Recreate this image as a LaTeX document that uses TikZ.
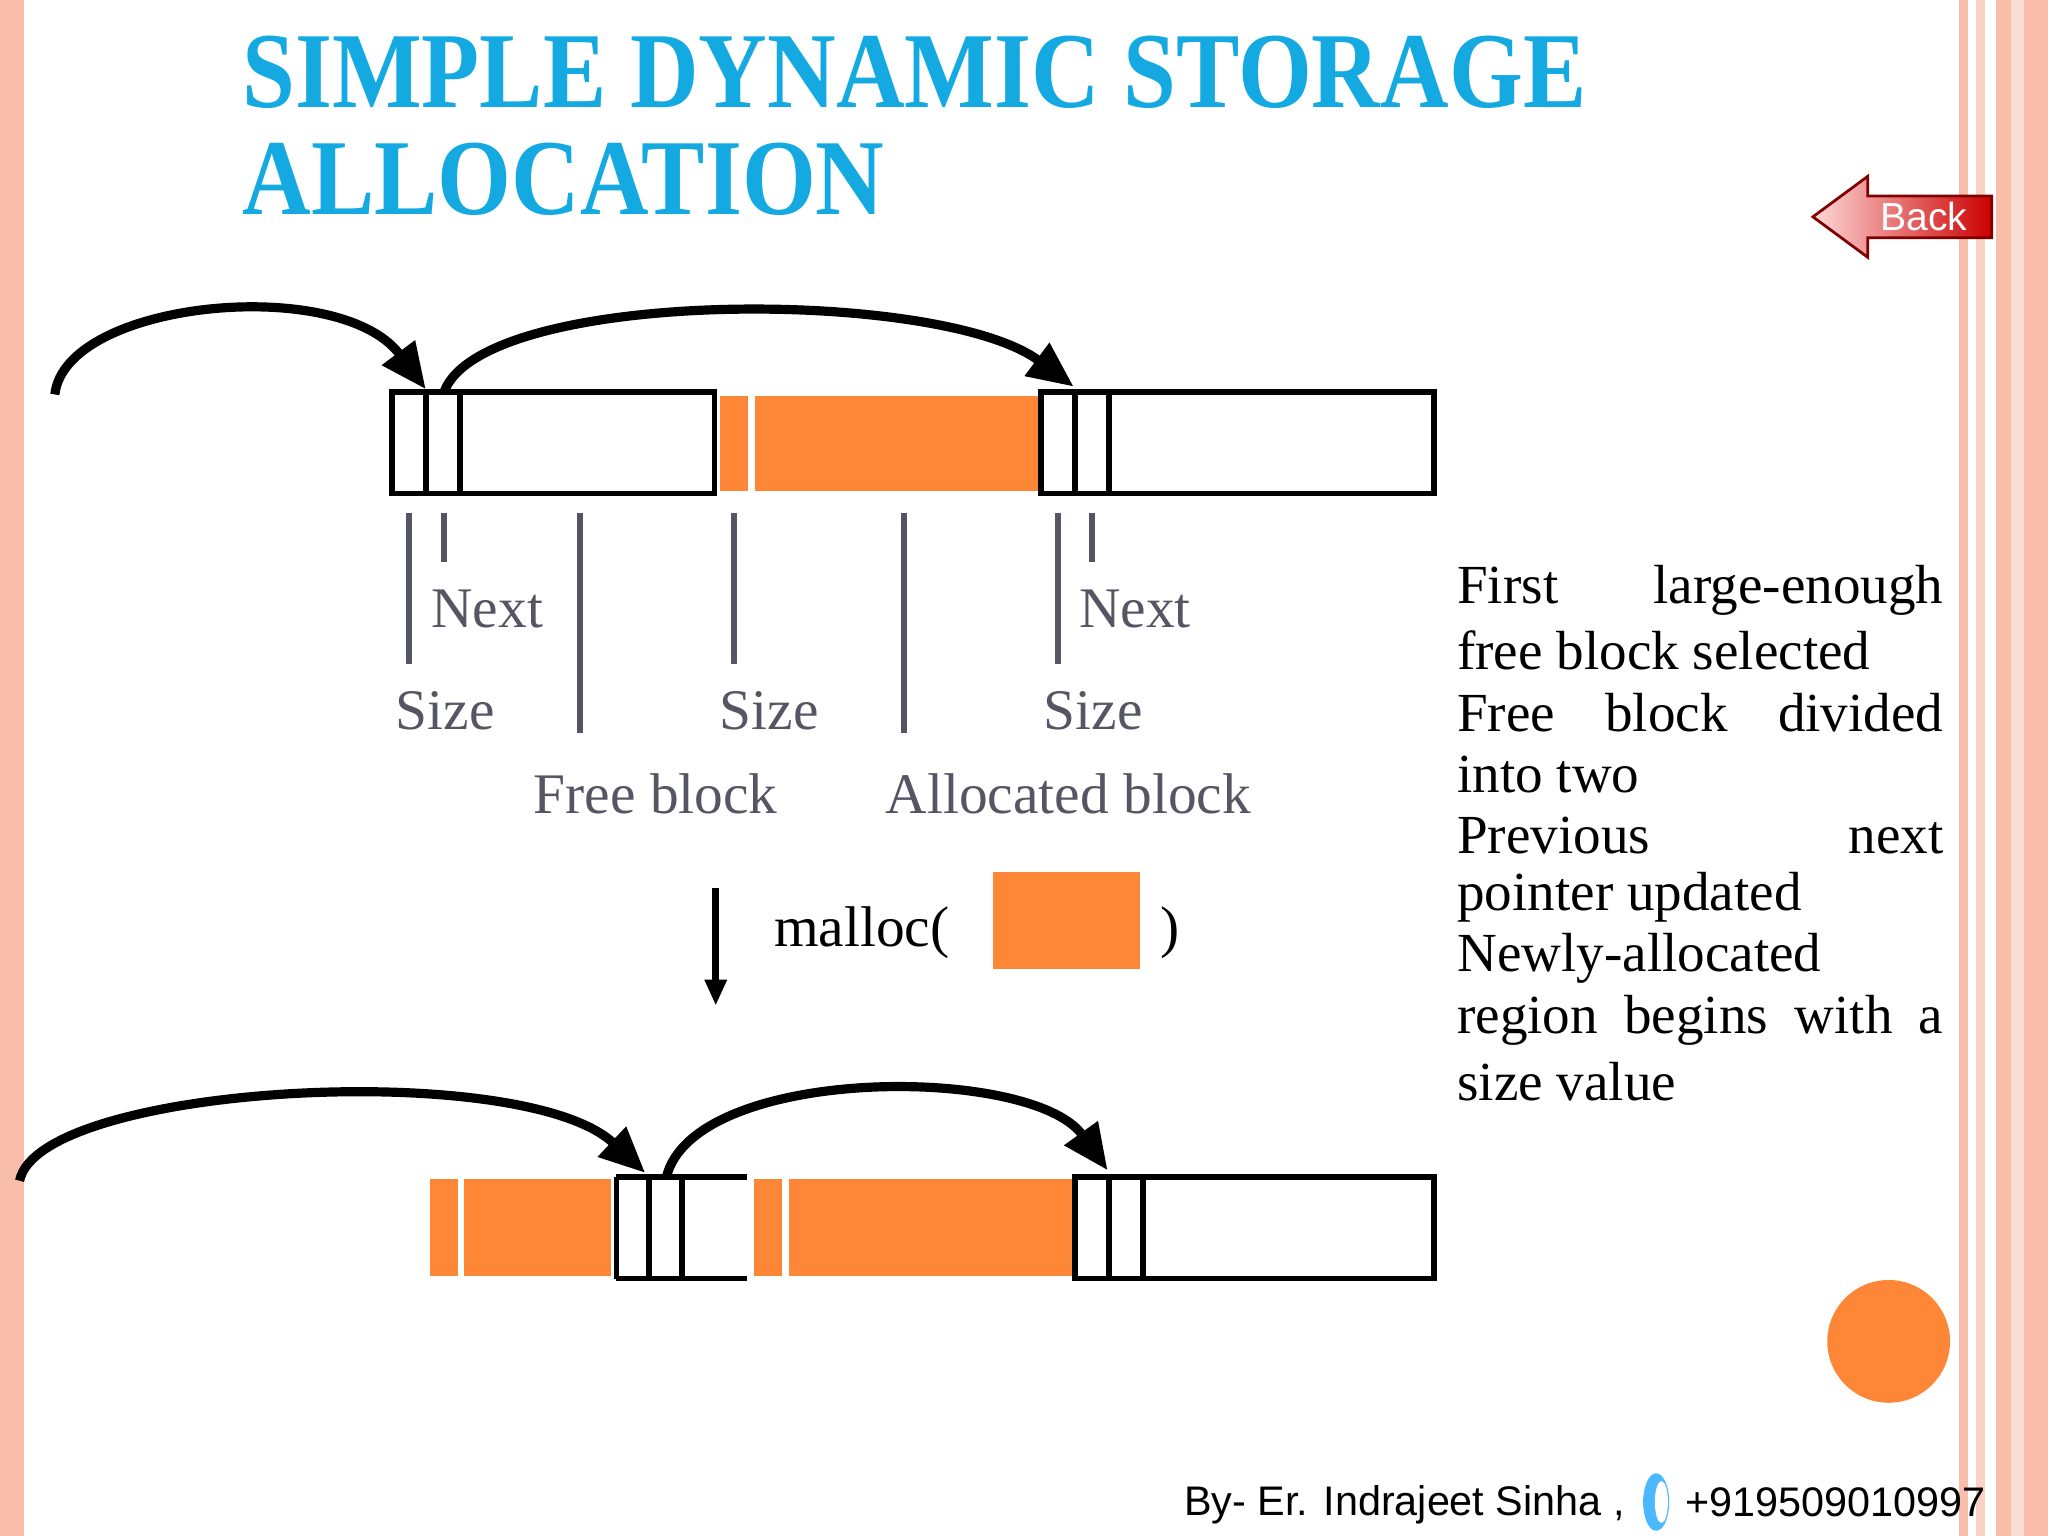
\documentclass[tikz,border=0pt]{standalone}
\usepackage{fontspec}
\setmainfont{Liberation Serif}
\newfontfamily\sansf{Liberation Sans}
\usetikzlibrary{arrows.meta}
\definecolor{ttl}{RGB}{20,170,225}
\definecolor{org}{RGB}{253,135,55}
\definecolor{gry}{RGB}{85,85,100}
\definecolor{pnk}{RGB}{248,190,170}
\begin{document}
\begin{tikzpicture}[x=0.01cm,y=-0.01cm,
  blk/.style={draw=black,line width=1.2pt,fill=white},
  orb/.style={fill=org,draw=none},
  tick/.style={draw=gry,line width=1.2pt},
  lbl/.style={text=gry,font=\fontsize{12.5}{14}\selectfont,inner sep=0pt},
  arc/.style={line width=2pt,-{Triangle[length=0.35cm,width=0.3cm]}},
  rt/.style={anchor=west,inner sep=0pt,font=\fontsize{12}{14}\selectfont}]
\useasboundingbox (0,0) rectangle (1568,1176);
% borders
\fill[pnk] (0,0) rectangle (18,1176);
\fill[pnk] (1500,0) rectangle (1507,1176);
\fill[pnk!70] (1513,0) rectangle (1520,1176);
\fill[pnk] (1528,0) rectangle (1568,1176);
\fill[pnk!50] (1540,0) rectangle (1550,1176);
% title
\node[anchor=west,text=ttl,font=\bfseries\fontsize{23.5}{26}\selectfont,inner sep=0pt,xscale=0.88] (t1) at (185,55) {SIMPLE DYNAMIC STORAGE};
\node[anchor=west,text=ttl,font=\bfseries\fontsize{23.5}{26}\selectfont,inner sep=0pt,xscale=0.88] (t2) at (185,137) {ALLOCATION};
% back button
\shade[left color=red!15!white,right color=red!80!black,draw=red!50!black,line width=0.6pt]
  (1388,166) -- (1430,135) -- (1430,150) -- (1525,150) -- (1525,182) -- (1430,182) -- (1430,197) -- cycle;
\node[text=white,font=\sansf\fontsize{8.5}{10}\selectfont] (bkt) at (1473,166) {Back};
% top row
\draw[blk] (300,300) rectangle (547,378);
\draw[line width=1.2pt] (326,300) -- (326,378) (352,300) -- (352,378);
\fill[orb] (551,303) rectangle (573,376);
\fill[orb] (578,303) rectangle (795,376);
\draw[blk] (797,300) rectangle (1098,378);
\draw[line width=1.2pt] (823,300) -- (823,378) (849,300) -- (849,378);
\coordinate (a0) at (42,302); \coordinate (a1) at (326,298);
\coordinate (b0) at (340,300); \coordinate (b1) at (822,296);
\draw[arc] (a0) .. controls (50,230) and (260,210) .. (a1);
\draw[arc] (b0) .. controls (370,220) and (720,220) .. (b1);
\draw[tick] (313,393) -- (313,508);
\draw[tick] (340,393) -- (340,430);
\draw[tick] (444,393) -- (444,561);
\draw[tick] (562,393) -- (562,508);
\draw[tick] (692,393) -- (692,561);
\draw[tick] (810,393) -- (810,508);
\draw[tick] (836,393) -- (836,430);
\node[lbl] (n1) at (373,466) {Next};
\node[lbl] (s1) at (341,544) {Size};
\node[lbl] (s2) at (589,544) {Size};
\node[lbl] (n2) at (869,466) {Next};
\node[lbl] (s3) at (837,544) {Size};
\node[lbl] (fb) at (502,608) {Free block};
\node[lbl] (ab) at (818,608) {Allocated block};
% malloc
\coordinate (m0) at (548,680); \coordinate (m1) at (548,770);
\draw[line width=1.6pt,-{Triangle[length=0.2cm,width=0.16cm]}] (m0) -- (m1);
\node[anchor=west,inner sep=0pt,font=\fontsize{12.5}{14}\selectfont] (ml) at (592,714) {malloc(};
\fill[orb] (760,668) rectangle (873,742);
\node[inner sep=0pt,font=\fontsize{12.5}{14}\selectfont] (rp) at (896,714) {)};
% bottom row
\fill[orb] (329,903) rectangle (351,977);
\fill[orb] (355,903) rectangle (468,977);
\draw[line width=1.2pt] (472,901) -- (572,901) (472,979) -- (572,979) (472,901) -- (472,979) (497,901) -- (497,979) (522,901) -- (522,979);
\fill[orb] (577,903) rectangle (599,977);
\fill[orb] (604,903) rectangle (822,977);
\draw[blk] (823,901) rectangle (1098,979);
\draw[line width=1.2pt] (849,901) -- (849,979) (875,901) -- (875,979);
\coordinate (c0) at (15,904); \coordinate (c1) at (494,898);
\coordinate (d0) at (510,902); \coordinate (d1) at (848,896);
\draw[arc] (c0) .. controls (30,830) and (400,810) .. (c1);
\draw[arc] (d0) .. controls (530,815) and (790,815) .. (d1);
% right text
\node[rt] (r1) at (1115,452) {\makebox[3.72cm][s]{First\hfill large-enough}};
\node[rt] (r2) at (1115,498) {free block selected};
\node[rt] (r3) at (1115,546) {\makebox[3.72cm][s]{Free\hfill block\hfill divided}};
\node[rt] (r4) at (1115,593) {into two};
\node[rt] (r5) at (1115,640) {\makebox[3.72cm][s]{Previous\hfill next}};
\node[rt] (r6) at (1115,687) {pointer updated};
\node[rt] (r7) at (1115,734) {Newly-allocated};
\node[rt] (r8) at (1115,781) {\makebox[3.72cm][s]{region\hfill begins\hfill with\hfill a}};
\node[rt] (r9) at (1115,828) {size value};
% circle
\fill[org] (1446,1027) circle (47);
% footer
\node[anchor=west,inner sep=0pt,font=\sansf\fontsize{9}{11}\selectfont] (f1) at (906,1152) {By- Er. Indrajeet Sinha ,};
\fill[blue!40!cyan!70] (1268,1150) ellipse (10 and 22);
\fill[white] (1272,1150) ellipse (5 and 16);
\node[anchor=west,inner sep=0pt,font=\sansf\fontsize{9}{11}\selectfont] (f2) at (1290,1150) {+919509010997};
\end{tikzpicture}
\end{document}
